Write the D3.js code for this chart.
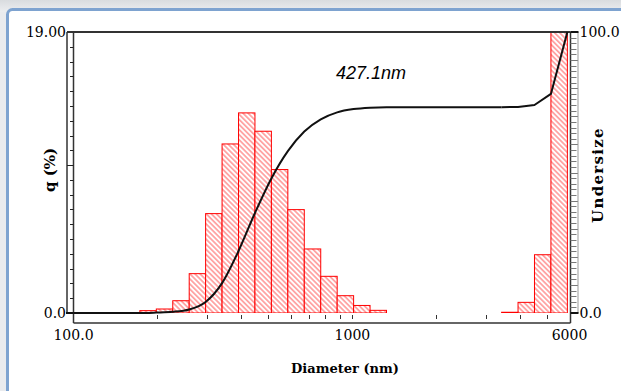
<!DOCTYPE html>
<html>
<head>
<meta charset="utf-8">
<script src="https://cdn.jsdelivr.net/npm/d3@7"></script>
<style>
  html, body { margin: 0; padding: 0; background: #e9ebee; }
  svg { display: block; }
</style>
</head>
<body>
<div id="chart"></div>
<script>
// channel edges (nm), first point is the axis start
const diameters = [100, 172.9, 198.1, 226.9, 259.9, 297.6, 340.9, 390.5, 447.2, 512.2, 586.7,
    672.0, 769.7, 881.6, 1009.7, 1156.5, 1324.6, 1517.2, 1737.7, 1990.4, 2279.7, 2611.1,
    2990.7, 3425.5, 3923.4, 4493.8, 5147.1, 5895.3];
// q (%) for each channel between two edges
const qPercent = [0, 0.16, 0.27, 0.83, 2.66, 6.72, 11.43, 13.53, 12.29, 9.70, 6.99,
    4.33, 2.48, 1.17, 0.51, 0.18, 0, 0, 0, 0, 0,
    0, 0, 0.05, 0.72, 3.94, 22.0];
// undersize (%) at each edge
const undersize = [0, 0, 0.16, 0.43, 1.26, 3.92, 10.64, 22.07, 35.60, 47.89, 57.59,
    64.58, 68.91, 71.39, 72.56, 73.07, 73.25, 73.25, 73.25, 73.25, 73.25, 73.25,
    73.25, 73.25, 73.30, 74.02, 77.96, 100];
const xTicks = [200, 300, 400, 500, 600, 700, 800, 900, 1000, 2000, 3000, 4000, 5000];
const xLabels = [100, 1000, 6000];
const medianLabel = '427.1nm';

const width = 621;
const height = 391;
const margin = { left: 73.5, right: 51.5, top: 32, bottom: 78 };
const frameLeft = 67;
const frameRight = 570.5;
const axisBottom = 323;
const base = height - margin.bottom; // 313

const x = d3.scaleLog()
    .domain([100, 6000])
    .range([margin.left, width - margin.right]);

const yQ = d3.scaleLinear()
    .domain([0, 19])
    .range([base, margin.top]);

const yU = d3.scaleLinear()
    .domain([0, 100])
    .range([base, margin.top]);

const svg = d3.select('#chart')
    .append('svg')
    .attr('width', width)
    .attr('height', height);

const defs = svg.append('defs');

const topGrad = defs.append('linearGradient')
    .attr('id', 'topband')
    .attr('x1', 0).attr('y1', 0).attr('x2', 0).attr('y2', 1);
topGrad.append('stop').attr('offset', '0%').attr('stop-color', '#d9dcdf');
topGrad.append('stop').attr('offset', '100%').attr('stop-color', '#eceef0');

const hatch = defs.append('pattern')
    .attr('id', 'hatch')
    .attr('width', 3.6)
    .attr('height', 3.6)
    .attr('patternUnits', 'userSpaceOnUse')
    .attr('patternTransform', 'rotate(-45)');
hatch.append('rect')
    .attr('width', 3.6).attr('height', 3.6).attr('fill', 'white');
hatch.append('line')
    .attr('x1', 1.8).attr('y1', 0).attr('x2', 1.8).attr('y2', 3.6)
    .attr('stroke', '#ff7777')
    .attr('stroke-width', 1.2);

defs.append('clipPath')
    .attr('id', 'plotclip')
    .append('rect')
    .attr('x', frameLeft)
    .attr('y', margin.top)
    .attr('width', frameRight - frameLeft)
    .attr('height', base - margin.top);

// window frame
svg.append('rect')
    .attr('x', 0).attr('y', 0)
    .attr('width', width).attr('height', 12)
    .attr('fill', 'url(#topband)');

svg.append('rect')
    .attr('x', 7.5).attr('y', 9.5)
    .attr('width', 640).attr('height', 400)
    .attr('rx', 5)
    .attr('fill', 'white')
    .attr('stroke', '#7ea3d0')
    .attr('stroke-width', 3);

// bars
const bins = qPercent.map((v, i) => ({ x0: diameters[i], x1: diameters[i + 1], q: v }))
    .filter(d => d.q > 0);

svg.append('g')
    .attr('clip-path', 'url(#plotclip)')
    .selectAll('rect')
    .data(bins)
    .join('rect')
    .attr('x', d => x(d.x0))
    .attr('y', d => yQ(d.q))
    .attr('width', d => x(d.x1) - x(d.x0))
    .attr('height', d => base - yQ(d.q))
    .attr('fill', 'url(#hatch)')
    .attr('stroke', '#ff0000')
    .attr('stroke-width', 1);

// frame lines
const frame = svg.append('g')
    .attr('fill', 'none')
    .attr('stroke', '#333');

frame.append('line')
    .attr('x1', frameLeft).attr('x2', frameRight)
    .attr('y1', margin.top).attr('y2', margin.top)
    .attr('stroke-width', 2);

frame.append('line')
    .attr('x1', frameLeft).attr('x2', frameLeft)
    .attr('y1', margin.top).attr('y2', base)
    .attr('stroke-width', 1.5);

frame.append('line')
    .attr('x1', margin.left).attr('x2', margin.left)
    .attr('y1', margin.top).attr('y2', axisBottom)
    .attr('stroke-width', 1.5);

frame.append('line')
    .attr('x1', margin.left).attr('x2', frameRight)
    .attr('y1', axisBottom).attr('y2', axisBottom)
    .attr('stroke-width', 1.5);

frame.append('line')
    .attr('x1', frameRight).attr('x2', frameRight)
    .attr('y1', margin.top).attr('y2', axisBottom)
    .attr('stroke-width', 1.5);

// left axis ticks
svg.append('g')
    .attr('stroke', '#222')
    .selectAll('line')
    .data(d3.range(1, 19))
    .join('line')
    .attr('x1', d => d === 10 ? frameLeft : margin.left - 3.5)
    .attr('x2', margin.left)
    .attr('y1', d => Math.round(yQ(d)) + 0.5)
    .attr('y2', d => Math.round(yQ(d)) + 0.5);

// right axis ticks
svg.append('g')
    .attr('stroke', '#777')
    .selectAll('line')
    .data(d3.range(2, 100, 2))
    .join('line')
    .attr('x1', frameRight)
    .attr('x2', d => d % 10 === 0 ? frameRight + 7.5 : frameRight + 6)
    .attr('y1', d => Math.round(yU(d)) + 0.5)
    .attr('y2', d => Math.round(yU(d)) + 0.5);

svg.append('line')
    .attr('x1', frameRight + 7.5).attr('x2', frameRight + 7.5)
    .attr('y1', margin.top).attr('y2', base)
    .attr('stroke', '#999')
    .attr('stroke-width', 1);

svg.append('g')
    .attr('stroke', '#111')
    .attr('stroke-width', 2)
    .selectAll('line')
    .data([0, 100])
    .join('line')
    .attr('x1', frameRight)
    .attr('x2', frameRight + 8)
    .attr('y1', d => yU(d))
    .attr('y2', d => yU(d));

// bottom axis ticks
svg.append('g')
    .attr('stroke', '#333')
    .selectAll('line')
    .data(xTicks)
    .join('line')
    .attr('x1', d => Math.round(x(d)) + 0.5)
    .attr('x2', d => Math.round(x(d)) + 0.5)
    .attr('y1', base + 2)
    .attr('y2', base + 6);

// undersize curve: smooth in the main peak, straight segments in the coarse tail
const points = diameters.map((d, i) => [d, undersize[i]]);
const split = diameters.indexOf(3425.5);

const smooth = d3.line()
    .x(d => x(d[0]))
    .y(d => yU(d[1]))
    .curve(d3.curveMonotoneX);

const straight = d3.line()
    .x(d => x(d[0]))
    .y(d => yU(d[1]));

svg.append('line')
    .attr('x1', frameLeft - 1).attr('x2', margin.left)
    .attr('y1', base).attr('y2', base)
    .attr('stroke', '#111')
    .attr('stroke-width', 2);

svg.append('path')
    .datum(points.slice(0, split + 1))
    .attr('fill', 'none')
    .attr('stroke', '#111')
    .attr('stroke-width', 2)
    .attr('d', smooth);

svg.append('path')
    .datum(points.slice(split))
    .attr('fill', 'none')
    .attr('stroke', '#111')
    .attr('stroke-width', 2)
    .attr('stroke-linejoin', 'round')
    .attr('d', straight);

// tick labels
const serif = 'DejaVu Serif, serif';

svg.append('text')
    .attr('x', frameLeft - 1).attr('y', yQ(19) + 5)
    .attr('text-anchor', 'end')
    .attr('font-family', serif).attr('font-size', '14px')
    .text('19.00');

svg.append('text')
    .attr('x', frameLeft - 1).attr('y', yQ(0) + 5)
    .attr('text-anchor', 'end')
    .attr('font-family', serif).attr('font-size', '14px')
    .text('0.0');

svg.append('text')
    .attr('x', frameRight + 9).attr('y', yU(100) + 5)
    .attr('font-family', serif).attr('font-size', '14px')
    .text('100.0');

svg.append('text')
    .attr('x', frameRight + 9).attr('y', yU(0) + 5)
    .attr('font-family', serif).attr('font-size', '14px')
    .text('0.0');

svg.append('g')
    .selectAll('text')
    .data(xLabels)
    .join('text')
    .attr('x', d => x(d))
    .attr('y', 340)
    .attr('text-anchor', 'middle')
    .attr('font-family', serif).attr('font-size', '14px')
    .text(d => d === 100 ? '100.0' : d);

// axis titles
svg.append('text')
    .attr('x', 345).attr('y', 373)
    .attr('text-anchor', 'middle')
    .attr('font-family', serif).attr('font-size', '13px')
    .attr('font-weight', 'bold')
    .text('Diameter (nm)');

svg.append('text')
    .attr('transform', 'translate(55, 170) rotate(-90)')
    .attr('text-anchor', 'middle')
    .attr('font-family', serif).attr('font-size', '15px')
    .attr('font-weight', 'bold')
    .text('q (%)');

svg.append('text')
    .attr('transform', 'translate(603, 175) rotate(-90)')
    .attr('text-anchor', 'middle')
    .attr('font-family', serif).attr('font-size', '15px')
    .attr('font-weight', 'bold')
    .attr('letter-spacing', '1.3px')
    .text('Undersize');

svg.append('text')
    .attr('x', 336).attr('y', 79)
    .attr('font-family', 'Liberation Sans, Arial, sans-serif')
    .attr('font-size', '18px')
    .attr('font-style', 'italic')
    .text(medianLabel);
</script>
</body>
</html>
